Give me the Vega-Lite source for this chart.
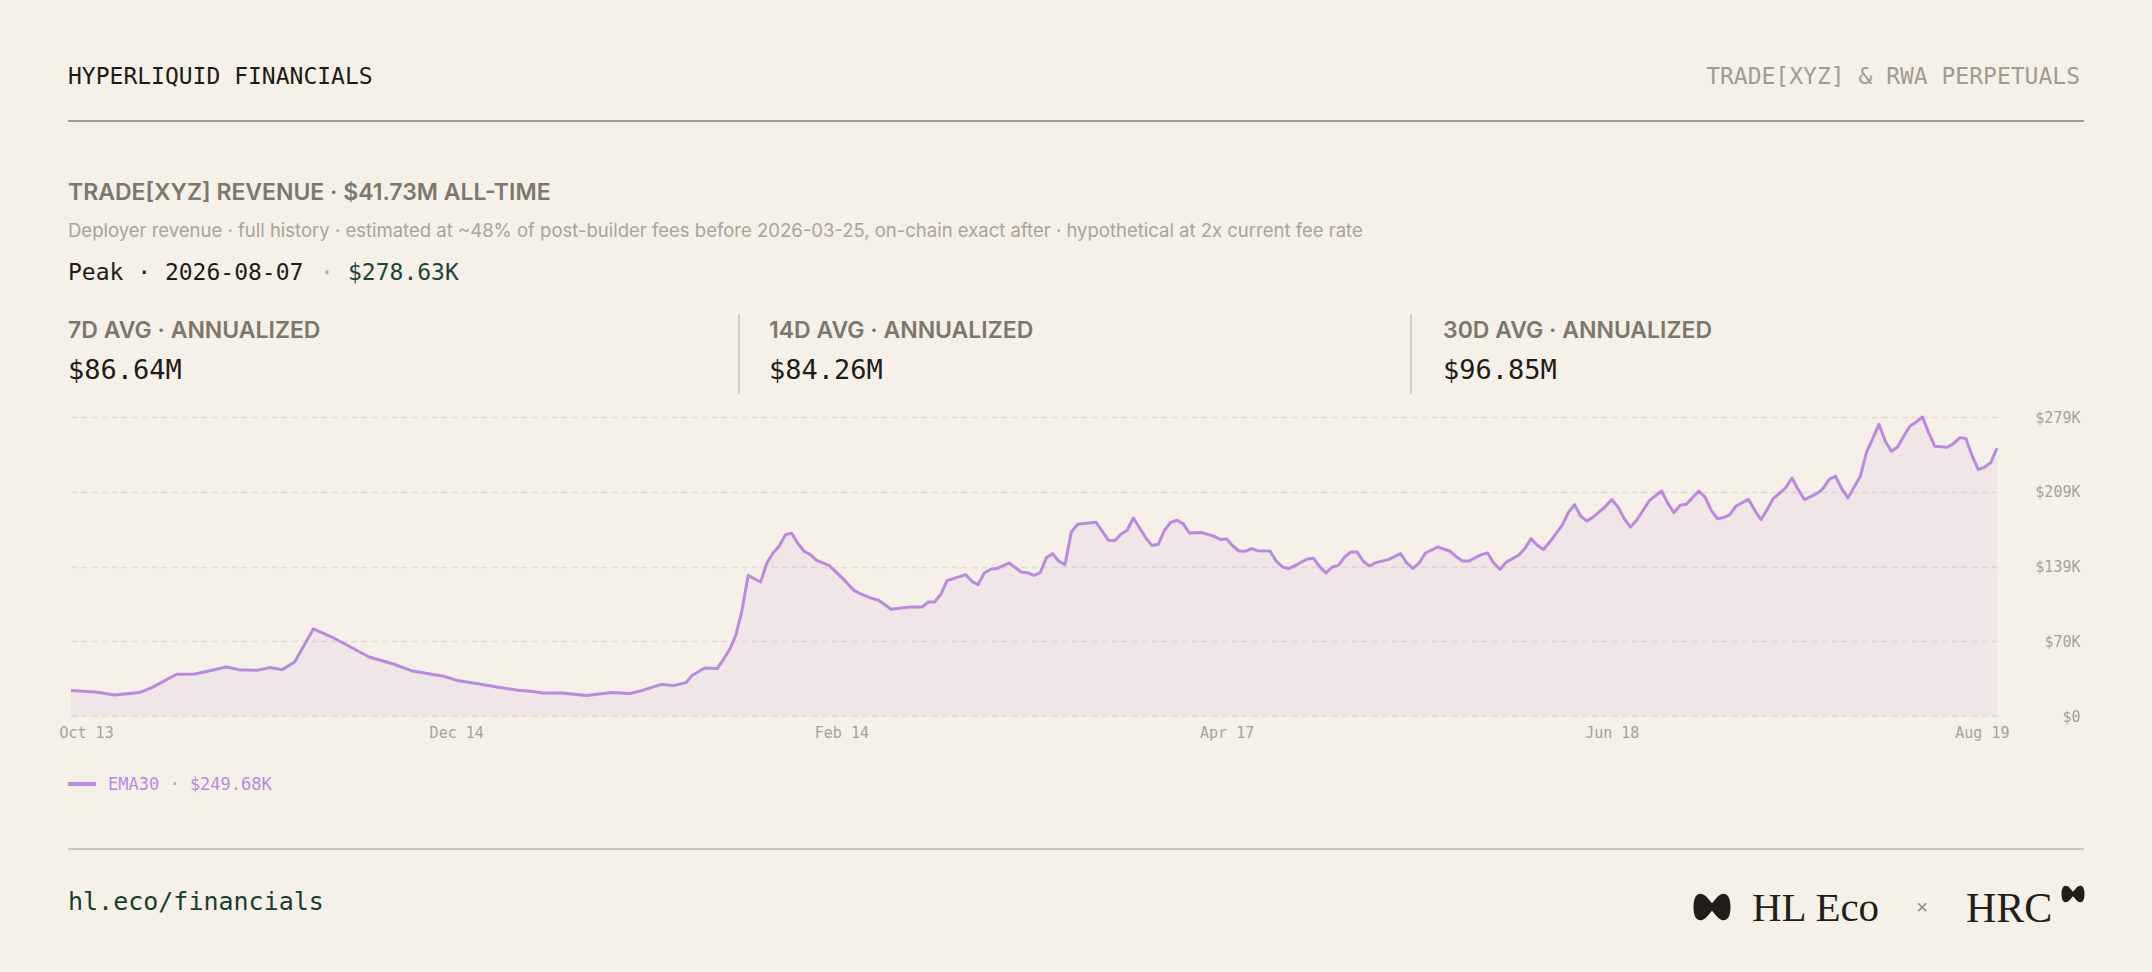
{
  "$schema": "https://vega.github.io/schema/vega-lite/v6.json",
  "width": 1926,
  "height": 299,
  "autosize": {"type": "none"},
  "padding": {"left": 71, "top": 417, "right": 155, "bottom": 256},
  "background": "#f5f1e8",
  "config": {"view": {"stroke": null}},
  "layer": [
    {
      "data": {"name": "ema"},
      "mark": {"type": "area", "color": "#b98ae0", "opacity": 0.1},
      "encoding": {
        "x": {
          "field": "date", "type": "temporal", "scale": {"type": "utc"},
          "axis": {
            "title": null, "grid": false, "domain": false, "ticks": false,
            "format": "%b %d",
            "values": [
              {"year": 2025, "month": 10, "date": 13, "utc": true},
              {"year": 2025, "month": 12, "date": 14, "utc": true},
              {"year": 2026, "month": 2, "date": 14, "utc": true},
              {"year": 2026, "month": 4, "date": 17, "utc": true},
              {"year": 2026, "month": 6, "date": 18, "utc": true},
              {"year": 2026, "month": 8, "date": 19, "utc": true}
            ],
            "labelFlush": true, "labelFlushOffset": 12, "labelPadding": 9,
            "labelFont": "DejaVu Sans Mono", "labelFontSize": 15, "labelColor": "#a8a195"
          }
        },
        "y": {
          "field": "ema30", "type": "quantitative",
          "scale": {"domain": [0, 278.63], "nice": false},
          "axis": {
            "orient": "right", "title": null, "domain": false, "ticks": false, "tickSize": 0,
            "values": [0, 69.6575, 139.315, 208.9725, 278.63],
            "labelExpr": "datum.value == 0 ? '$0' : '$' + format(datum.value, '.0f') + 'K'",
            "labelAlign": "right", "labelPadding": 83,
            "labelFont": "DejaVu Sans Mono", "labelFontSize": 15, "labelColor": "#a8a195",
            "grid": true, "gridColor": "#e3ddd1", "gridDash": [6, 4], "gridWidth": 1.5
          }
        }
      }
    },
    {
      "data": {"name": "ema"},
      "mark": {"type": "line", "color": "#b98ae0", "strokeWidth": 3, "strokeJoin": "round"},
      "encoding": {
        "x": {"field": "date", "type": "temporal"},
        "y": {"field": "ema30", "type": "quantitative"}
      }
    },
    {
      "data": {"values": [{"t": "HYPERLIQUID FINANCIALS"}]},
      "mark": {"type": "text", "font": "DejaVu Sans Mono", "fontSize": 23, "color": "#1f1b16", "align": "left", "baseline": "alphabetic"},
      "encoding": {"text": {"field": "t"}, "x": {"value": -3}, "y": {"value": -333}}
    },
    {
      "data": {"values": [{"t": "TRADE[XYZ] & RWA PERPETUALS"}]},
      "mark": {"type": "text", "font": "DejaVu Sans Mono", "fontSize": 23, "color": "#a29b8f", "align": "right", "baseline": "alphabetic"},
      "encoding": {"text": {"field": "t"}, "x": {"value": 2009}, "y": {"value": -333}}
    },
    {
      "data": {"values": [{"k": "header"}]},
      "mark": {"type": "rule", "color": "#a09784", "strokeWidth": 2},
      "encoding": {"x": {"value": -3}, "x2": {"value": 2013}, "y": {"value": -296}}
    },
    {
      "data": {"values": [{"t": "TRADE[XYZ] REVENUE · $41.73M ALL-TIME"}]},
      "mark": {"type": "text", "font": "Inter", "fontSize": 23, "fontWeight": 600, "color": "#7e776b", "align": "left", "baseline": "alphabetic"},
      "encoding": {"text": {"field": "t"}, "x": {"value": -3}, "y": {"value": -217}}
    },
    {
      "data": {"values": [{"t": "Deployer revenue · full history · estimated at ~48% of post-builder fees before 2026-03-25, on-chain exact after · hypothetical at 2x current fee rate"}]},
      "mark": {"type": "text", "font": "Inter", "fontSize": 18.5, "fontWeight": 400, "color": "#aaa398", "align": "left", "baseline": "alphabetic"},
      "encoding": {"text": {"field": "t"}, "x": {"value": -3}, "y": {"value": -180}}
    },
    {
      "data": {"values": [{"t": "Peak · 2026-08-07"}]},
      "mark": {"type": "text", "font": "DejaVu Sans Mono", "fontSize": 23, "color": "#1f1b16", "align": "left", "baseline": "alphabetic"},
      "encoding": {"text": {"field": "t"}, "x": {"value": -3}, "y": {"value": -137}}
    },
    {
      "data": {"values": [{"t": "·"}]},
      "mark": {"type": "text", "font": "DejaVu Sans Mono", "fontSize": 23, "color": "#b5aea2", "align": "center", "baseline": "alphabetic"},
      "encoding": {"text": {"field": "t"}, "x": {"value": 256}, "y": {"value": -137}}
    },
    {
      "data": {"values": [{"t": "$278.63K"}]},
      "mark": {"type": "text", "font": "DejaVu Sans Mono", "fontSize": 23, "color": "#1d4535", "align": "left", "baseline": "alphabetic"},
      "encoding": {"text": {"field": "t"}, "x": {"value": 277}, "y": {"value": -137}}
    },
    {
      "data": {"values": [{"t": "7D AVG · ANNUALIZED"}]},
      "mark": {"type": "text", "font": "Inter", "fontSize": 23, "fontWeight": 600, "color": "#7e776b", "align": "left", "baseline": "alphabetic"},
      "encoding": {"text": {"field": "t"}, "x": {"value": -3}, "y": {"value": -79}}
    },
    {
      "data": {"values": [{"t": "14D AVG · ANNUALIZED"}]},
      "mark": {"type": "text", "font": "Inter", "fontSize": 23, "fontWeight": 600, "color": "#7e776b", "align": "left", "baseline": "alphabetic"},
      "encoding": {"text": {"field": "t"}, "x": {"value": 698}, "y": {"value": -79}}
    },
    {
      "data": {"values": [{"t": "30D AVG · ANNUALIZED"}]},
      "mark": {"type": "text", "font": "Inter", "fontSize": 23, "fontWeight": 600, "color": "#7e776b", "align": "left", "baseline": "alphabetic"},
      "encoding": {"text": {"field": "t"}, "x": {"value": 1372}, "y": {"value": -79}}
    },
    {
      "data": {"values": [{"t": "$86.64M"}]},
      "mark": {"type": "text", "font": "DejaVu Sans Mono", "fontSize": 27, "color": "#1f1b16", "align": "left", "baseline": "alphabetic"},
      "encoding": {"text": {"field": "t"}, "x": {"value": -3}, "y": {"value": -38}}
    },
    {
      "data": {"values": [{"t": "$84.26M"}]},
      "mark": {"type": "text", "font": "DejaVu Sans Mono", "fontSize": 27, "color": "#1f1b16", "align": "left", "baseline": "alphabetic"},
      "encoding": {"text": {"field": "t"}, "x": {"value": 698}, "y": {"value": -38}}
    },
    {
      "data": {"values": [{"t": "$96.85M"}]},
      "mark": {"type": "text", "font": "DejaVu Sans Mono", "fontSize": 27, "color": "#1f1b16", "align": "left", "baseline": "alphabetic"},
      "encoding": {"text": {"field": "t"}, "x": {"value": 1372}, "y": {"value": -38}}
    },
    {
      "data": {"values": [{"k": "div1"}]},
      "mark": {"type": "rule", "color": "#cbc5b8", "strokeWidth": 1.5},
      "encoding": {"x": {"value": 668}, "y": {"value": -103}, "y2": {"value": -23}}
    },
    {
      "data": {"values": [{"k": "div2"}]},
      "mark": {"type": "rule", "color": "#cbc5b8", "strokeWidth": 1.5},
      "encoding": {"x": {"value": 1340}, "y": {"value": -103}, "y2": {"value": -23}}
    },
    {
      "data": {"values": [{"k": "swatch"}]},
      "mark": {"type": "rule", "color": "#b98ae0", "strokeWidth": 4},
      "encoding": {"x": {"value": -3}, "x2": {"value": 25}, "y": {"value": 367}}
    },
    {
      "data": {"values": [{"t": "EMA30 · $249.68K"}]},
      "mark": {"type": "text", "font": "DejaVu Sans Mono", "fontSize": 17, "color": "#b98ae0", "align": "left", "baseline": "alphabetic"},
      "encoding": {"text": {"field": "t"}, "x": {"value": 37}, "y": {"value": 373}}
    },
    {
      "data": {"values": [{"k": "footer"}]},
      "mark": {"type": "rule", "color": "#cdc7b9", "strokeWidth": 2},
      "encoding": {"x": {"value": -3}, "x2": {"value": 2013}, "y": {"value": 432}}
    },
    {
      "data": {"values": [{"t": "hl.eco/financials"}]},
      "mark": {"type": "text", "font": "DejaVu Sans Mono", "fontSize": 25, "color": "#193d2d", "align": "left", "baseline": "alphabetic"},
      "encoding": {"text": {"field": "t"}, "x": {"value": -3}, "y": {"value": 493}}
    },
    {
      "data": {"values": [{"logo": "HL Eco"}]},
      "mark": {"type": "point", "filled": true, "opacity": 1, "color": "#221f1a", "size": 1369,
        "shape": "M -1 0 C -1 -0.8 -0.6 -0.85 -0.3 -0.55 L 0 -0.2 L 0.3 -0.55 C 0.6 -0.85 1 -0.8 1 0 C 1 0.8 0.6 0.85 0.3 0.55 L 0 0.2 L -0.3 0.55 C -0.6 0.85 -1 0.8 -1 0 Z"},
      "encoding": {"x": {"value": 1641}, "y": {"value": 490}}
    },
    {
      "data": {"values": [{"t": "HL Eco"}]},
      "mark": {"type": "text", "font": "Liberation Serif", "fontSize": 41, "color": "#221f1a", "align": "left", "baseline": "alphabetic"},
      "encoding": {"text": {"field": "t"}, "x": {"value": 1681}, "y": {"value": 504}}
    },
    {
      "data": {"values": [{"t": "×"}]},
      "mark": {"type": "text", "font": "Liberation Sans", "fontSize": 20, "color": "#8d877b", "align": "center", "baseline": "alphabetic"},
      "encoding": {"text": {"field": "t"}, "x": {"value": 1851}, "y": {"value": 497}}
    },
    {
      "data": {"values": [{"t": "HRC"}]},
      "mark": {"type": "text", "font": "Liberation Serif", "fontSize": 42, "color": "#221f1a", "align": "left", "baseline": "alphabetic"},
      "encoding": {"text": {"field": "t"}, "x": {"value": 1895}, "y": {"value": 505}}
    },
    {
      "data": {"values": [{"logo": "HRC"}]},
      "mark": {"type": "point", "filled": true, "opacity": 1, "color": "#221f1a", "size": 529,
        "shape": "M -1 0 C -1 -0.8 -0.6 -0.85 -0.3 -0.55 L 0 -0.2 L 0.3 -0.55 C 0.6 -0.85 1 -0.8 1 0 C 1 0.8 0.6 0.85 0.3 0.55 L 0 0.2 L -0.3 0.55 C -0.6 0.85 -1 0.8 -1 0 Z"},
      "encoding": {"x": {"value": 2002}, "y": {"value": 477}}
    }
  ],
  "datasets": {
    "ema": [
      {"date": "2025-10-13", "ema30": 23.7}, {"date": "2025-10-17", "ema30": 22.4}, {"date": "2025-10-20", "ema30": 19.6},
      {"date": "2025-10-24", "ema30": 21.8}, {"date": "2025-10-26", "ema30": 26.5}, {"date": "2025-10-30", "ema30": 38.9},
      {"date": "2025-11-02", "ema30": 39.1}, {"date": "2025-11-07", "ema30": 45.7}, {"date": "2025-11-09", "ema30": 43.2},
      {"date": "2025-11-12", "ema30": 42.6}, {"date": "2025-11-14", "ema30": 45.1}, {"date": "2025-11-16", "ema30": 43.2},
      {"date": "2025-11-18", "ema30": 50.3}, {"date": "2025-11-21", "ema30": 81.1}, {"date": "2025-11-24", "ema30": 73.6},
      {"date": "2025-11-27", "ema30": 64.3}, {"date": "2025-11-30", "ema30": 55.0}, {"date": "2025-12-04", "ema30": 48.2},
      {"date": "2025-12-07", "ema30": 41.9}, {"date": "2025-12-10", "ema30": 38.9}, {"date": "2025-12-12", "ema30": 37.0},
      {"date": "2025-12-14", "ema30": 33.3}, {"date": "2025-12-18", "ema30": 29.5}, {"date": "2025-12-21", "ema30": 26.5},
      {"date": "2025-12-24", "ema30": 23.9}, {"date": "2025-12-26", "ema30": 23.0}, {"date": "2025-12-28", "ema30": 21.4},
      {"date": "2025-12-31", "ema30": 21.4}, {"date": "2026-01-02", "ema30": 20.2}, {"date": "2026-01-04", "ema30": 19.0},
      {"date": "2026-01-08", "ema30": 21.8}, {"date": "2026-01-11", "ema30": 20.9}, {"date": "2026-01-13", "ema30": 23.9},
      {"date": "2026-01-16", "ema30": 29.5}, {"date": "2026-01-18", "ema30": 28.3}, {"date": "2026-01-20", "ema30": 31.1},
      {"date": "2026-01-21", "ema30": 37.9}, {"date": "2026-01-23", "ema30": 44.7}, {"date": "2026-01-25", "ema30": 44.2},
      {"date": "2026-01-26", "ema30": 52.6}, {"date": "2026-01-27", "ema30": 61.9}, {"date": "2026-01-28", "ema30": 75.2},
      {"date": "2026-01-29", "ema30": 98.5}, {"date": "2026-01-30", "ema30": 131.1}, {"date": "2026-02-01", "ema30": 124.9},
      {"date": "2026-02-02", "ema30": 142.6}, {"date": "2026-02-03", "ema30": 151.9}, {"date": "2026-02-04", "ema30": 158.4},
      {"date": "2026-02-05", "ema30": 169.0}, {"date": "2026-02-06", "ema30": 170.3}, {"date": "2026-02-07", "ema30": 160.7},
      {"date": "2026-02-08", "ema30": 153.5}, {"date": "2026-02-09", "ema30": 150.4}, {"date": "2026-02-10", "ema30": 145.1},
      {"date": "2026-02-12", "ema30": 140.4}, {"date": "2026-02-14", "ema30": 129.5}, {"date": "2026-02-16", "ema30": 117.1},
      {"date": "2026-02-17", "ema30": 114.1}, {"date": "2026-02-19", "ema30": 109.4}, {"date": "2026-02-20", "ema30": 107.8},
      {"date": "2026-02-22", "ema30": 99.4}, {"date": "2026-02-25", "ema30": 101.6}, {"date": "2026-02-27", "ema30": 101.6},
      {"date": "2026-02-28", "ema30": 106.2}, {"date": "2026-03-01", "ema30": 106.2}, {"date": "2026-03-02", "ema30": 113.4},
      {"date": "2026-03-03", "ema30": 126.2}, {"date": "2026-03-06", "ema30": 131.8}, {"date": "2026-03-07", "ema30": 125.5},
      {"date": "2026-03-08", "ema30": 122.4}, {"date": "2026-03-09", "ema30": 133.3}, {"date": "2026-03-10", "ema30": 136.7},
      {"date": "2026-03-11", "ema30": 137.4}, {"date": "2026-03-13", "ema30": 142.6}, {"date": "2026-03-15", "ema30": 134.0},
      {"date": "2026-03-16", "ema30": 133.5}, {"date": "2026-03-17", "ema30": 131.1}, {"date": "2026-03-18", "ema30": 133.6},
      {"date": "2026-03-19", "ema30": 147.6}, {"date": "2026-03-20", "ema30": 151.3}, {"date": "2026-03-21", "ema30": 144.2},
      {"date": "2026-03-22", "ema30": 141.1}, {"date": "2026-03-23", "ema30": 171.5}, {"date": "2026-03-24", "ema30": 178.6},
      {"date": "2026-03-27", "ema30": 180.5}, {"date": "2026-03-29", "ema30": 163.7}, {"date": "2026-03-30", "ema30": 163.4},
      {"date": "2026-03-31", "ema30": 169.3}, {"date": "2026-04-01", "ema30": 173.1}, {"date": "2026-04-02", "ema30": 184.5},
      {"date": "2026-04-04", "ema30": 165.9}, {"date": "2026-04-05", "ema30": 158.8}, {"date": "2026-04-06", "ema30": 160.0},
      {"date": "2026-04-07", "ema30": 173.1}, {"date": "2026-04-08", "ema30": 180.5}, {"date": "2026-04-09", "ema30": 182.4},
      {"date": "2026-04-10", "ema30": 179.3}, {"date": "2026-04-11", "ema30": 170.5}, {"date": "2026-04-13", "ema30": 170.9},
      {"date": "2026-04-15", "ema30": 167.5}, {"date": "2026-04-16", "ema30": 164.4}, {"date": "2026-04-17", "ema30": 164.9},
      {"date": "2026-04-18", "ema30": 158.4}, {"date": "2026-04-19", "ema30": 153.8}, {"date": "2026-04-20", "ema30": 153.5},
      {"date": "2026-04-21", "ema30": 156.0}, {"date": "2026-04-22", "ema30": 154.1}, {"date": "2026-04-24", "ema30": 153.8},
      {"date": "2026-04-25", "ema30": 144.2}, {"date": "2026-04-26", "ema30": 138.9}, {"date": "2026-04-27", "ema30": 137.4},
      {"date": "2026-04-28", "ema30": 140.2}, {"date": "2026-04-30", "ema30": 146.3}, {"date": "2026-05-01", "ema30": 147.0},
      {"date": "2026-05-02", "ema30": 138.9}, {"date": "2026-05-03", "ema30": 133.3}, {"date": "2026-05-04", "ema30": 138.9},
      {"date": "2026-05-05", "ema30": 140.4}, {"date": "2026-05-06", "ema30": 148.2}, {"date": "2026-05-07", "ema30": 152.8},
      {"date": "2026-05-08", "ema30": 152.8}, {"date": "2026-05-09", "ema30": 144.2}, {"date": "2026-05-10", "ema30": 139.8},
      {"date": "2026-05-11", "ema30": 142.9}, {"date": "2026-05-13", "ema30": 145.7}, {"date": "2026-05-15", "ema30": 151.3},
      {"date": "2026-05-16", "ema30": 142.6}, {"date": "2026-05-17", "ema30": 137.4}, {"date": "2026-05-18", "ema30": 142.6},
      {"date": "2026-05-19", "ema30": 151.9}, {"date": "2026-05-21", "ema30": 157.5}, {"date": "2026-05-23", "ema30": 153.5},
      {"date": "2026-05-24", "ema30": 148.2}, {"date": "2026-05-25", "ema30": 144.4}, {"date": "2026-05-26", "ema30": 144.4},
      {"date": "2026-05-28", "ema30": 150.4}, {"date": "2026-05-29", "ema30": 151.9}, {"date": "2026-05-30", "ema30": 142.6},
      {"date": "2026-05-31", "ema30": 136.7}, {"date": "2026-06-01", "ema30": 143.4}, {"date": "2026-06-03", "ema30": 149.8},
      {"date": "2026-06-04", "ema30": 156.0}, {"date": "2026-06-05", "ema30": 165.3}, {"date": "2026-06-06", "ema30": 159.1},
      {"date": "2026-06-07", "ema30": 155.1}, {"date": "2026-06-08", "ema30": 162.1}, {"date": "2026-06-10", "ema30": 177.7},
      {"date": "2026-06-11", "ema30": 189.5}, {"date": "2026-06-12", "ema30": 197.0}, {"date": "2026-06-13", "ema30": 186.1},
      {"date": "2026-06-14", "ema30": 181.7}, {"date": "2026-06-15", "ema30": 185.4}, {"date": "2026-06-17", "ema30": 195.4},
      {"date": "2026-06-18", "ema30": 201.7}, {"date": "2026-06-19", "ema30": 194.8}, {"date": "2026-06-20", "ema30": 183.9},
      {"date": "2026-06-21", "ema30": 176.1}, {"date": "2026-06-22", "ema30": 182.4}, {"date": "2026-06-24", "ema30": 200.4},
      {"date": "2026-06-26", "ema30": 209.7}, {"date": "2026-06-27", "ema30": 198.5}, {"date": "2026-06-28", "ema30": 189.5},
      {"date": "2026-06-29", "ema30": 196.3}, {"date": "2026-06-30", "ema30": 197.3}, {"date": "2026-07-02", "ema30": 209.7},
      {"date": "2026-07-03", "ema30": 204.1}, {"date": "2026-07-04", "ema30": 191.7}, {"date": "2026-07-05", "ema30": 183.9},
      {"date": "2026-07-06", "ema30": 184.9}, {"date": "2026-07-07", "ema30": 187.7}, {"date": "2026-07-08", "ema30": 195.7},
      {"date": "2026-07-10", "ema30": 201.9}, {"date": "2026-07-11", "ema30": 191.7}, {"date": "2026-07-12", "ema30": 183.0},
      {"date": "2026-07-13", "ema30": 192.3}, {"date": "2026-07-14", "ema30": 202.6}, {"date": "2026-07-16", "ema30": 212.8},
      {"date": "2026-07-17", "ema30": 221.8}, {"date": "2026-07-18", "ema30": 211.0}, {"date": "2026-07-19", "ema30": 201.7},
      {"date": "2026-07-21", "ema30": 207.2}, {"date": "2026-07-22", "ema30": 211.9}, {"date": "2026-07-23", "ema30": 220.6},
      {"date": "2026-07-24", "ema30": 223.4}, {"date": "2026-07-25", "ema30": 211.9}, {"date": "2026-07-26", "ema30": 203.2},
      {"date": "2026-07-28", "ema30": 223.4}, {"date": "2026-07-29", "ema30": 246.0}, {"date": "2026-07-30", "ema30": 258.5},
      {"date": "2026-07-31", "ema30": 271.8}, {"date": "2026-08-01", "ema30": 256.3}, {"date": "2026-08-02", "ema30": 246.7},
      {"date": "2026-08-03", "ema30": 250.7}, {"date": "2026-08-04", "ema30": 260.9}, {"date": "2026-08-05", "ema30": 270.2},
      {"date": "2026-08-06", "ema30": 274.0}, {"date": "2026-08-07", "ema30": 278.63}, {"date": "2026-08-08", "ema30": 264.1},
      {"date": "2026-08-09", "ema30": 251.3}, {"date": "2026-08-10", "ema30": 251.0}, {"date": "2026-08-11", "ema30": 250.5},
      {"date": "2026-08-12", "ema30": 253.8}, {"date": "2026-08-13", "ema30": 259.4}, {"date": "2026-08-14", "ema30": 258.5},
      {"date": "2026-08-15", "ema30": 242.3}, {"date": "2026-08-16", "ema30": 229.6}, {"date": "2026-08-17", "ema30": 232.0},
      {"date": "2026-08-18", "ema30": 236.1}, {"date": "2026-08-19", "ema30": 249.68}
    ]
  }
}
